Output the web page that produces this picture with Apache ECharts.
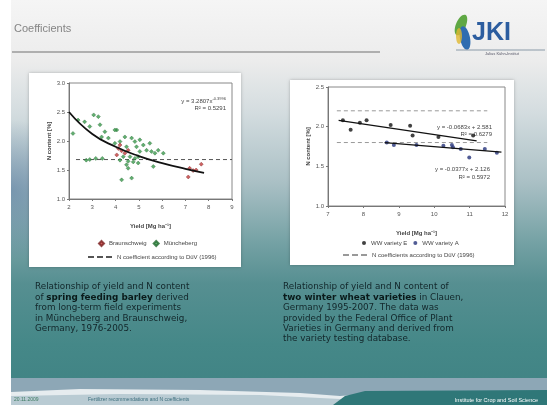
<!DOCTYPE html>
<html><head><meta charset="utf-8">
<script src="https://cdn.jsdelivr.net/npm/echarts@6/dist/echarts.min.js"></script>
<style>html,body{margin:0;padding:0;background:#fff}#c{width:547px;height:405px}</style>
</head><body><div id="c"></div>
<script>
// ---- data ----
const barleyMuencheberg = [[2.17,2.13],[2.39,2.36],[2.67,2.33],[2.89,2.25],[3.06,2.45],[3.26,2.42],[3.33,2.28],[3.54,2.16],[3.40,2.07],[3.69,2.05],[4.05,2.19],[3.97,1.96],[4.19,1.99],[4.40,2.07],[4.47,1.90],[4.69,2.05],[4.83,1.99],[4.90,1.90],[5.04,2.02],[5.19,1.93],[5.33,1.84],[5.47,1.96],[5.54,1.82],[5.69,1.79],[4.62,1.73],[4.76,1.64],[4.47,1.59],[4.54,1.53],[4.83,1.70],[4.97,1.73],[5.04,1.82],[4.19,1.67],[4.33,1.73],[3.43,1.70],[3.15,1.70],[2.89,1.68],[2.74,1.67],[4.26,1.33],[4.69,1.36],[5.62,1.56],[6.05,1.79],[5.83,1.84],[3.97,2.19],[4.97,1.62],[4.54,1.65]];
const barleyBraunschweig = [[4.12,1.87],[4.26,1.83],[4.05,1.76],[4.40,1.79],[4.54,1.84],[4.19,1.93],[7.18,1.53],[7.33,1.49],[7.12,1.38],[7.46,1.50],[7.68,1.60]];
const barleyTrend = [[2,2.50],[3,2.12],[4,1.90],[5,1.74],[6,1.62],[7,1.52],[7.8,1.45]];
const barleyCoef = [[2.3,1.68],[9,1.68]];
const wheatE = [[7.42,2.08],[7.64,1.96],[7.90,2.05],[8.09,2.08],[8.77,2.02],[9.32,2.01],[9.39,1.89],[10.12,1.87],[11.1,1.89]];
const wheatA = [[8.66,1.80],[8.86,1.77],[9.5,1.77],[10.26,1.76],[10.5,1.77],[10.53,1.74],[10.75,1.72],[10.99,1.61],[11.43,1.72],[11.77,1.67]];
const wheatTrendE = [[7.3,2.08],[11.2,1.82]];
const wheatTrendA = [[8.6,1.80],[11.9,1.68]];
const wheatCoefHigh = [[7.25,2.2],[11.5,2.2]];
const wheatCoefLow = [[7.25,1.8],[11.5,1.8]];
const leftLegend = ['Braunschweig','Müncheberg'];
const rightLegend = ['WW variety E','WW variety A'];
const leftCoefName = 'N coefficient according to DüV (1996)';
const rightCoefName = 'N coefficients according to DüV (1996)';

const chart = echarts.init(document.getElementById('c'), null, {renderer:'canvas'});
const F = 'Liberation Sans, Arial, sans-serif';
const CF = 'DejaVu Sans, Verdana, sans-serif';
const axisLab = {fontSize:6, color:'#555', fontFamily:F};
const yFmt = v => v.toFixed(1);
const dashIcon = 'path://M0,0h6v2h-6z M9,0h6v2h-6z M18,0h6v2h-6z';
function xAx(gi, min, max){return {gridIndex:gi,type:'value',min:min,max:max,interval:1,
  name:'Yield [Mg ha⁻¹]',nameLocation:'middle',nameGap:24,
  nameTextStyle:{fontSize:6,fontWeight:'bold',color:'#444',fontFamily:F},
  axisLine:{lineStyle:{color:'#777'}},axisTick:{length:2,lineStyle:{color:'#777'}},
  axisLabel:Object.assign({margin:5},axisLab),splitLine:{show:false}};}
function yAx(gi, min, max){return {gridIndex:gi,type:'value',min:min,max:max,interval:0.5,
  name:'N content [%]',nameLocation:'middle',nameGap:17,nameRotate:90,
  nameTextStyle:{fontSize:6,fontWeight:'bold',color:'#444',fontFamily:F},
  axisLine:{show:true,lineStyle:{color:'#777'}},axisTick:{show:true,length:2,lineStyle:{color:'#777'}},
  axisLabel:Object.assign({margin:4,formatter:yFmt},axisLab),splitLine:{show:false}};}

const slideGrad = new echarts.graphic.LinearGradient(0,0,0,1,[
  {offset:0,color:'#f5f5f5'},{offset:0.15,color:'#ececec'},{offset:0.28,color:'#d3dcdf'},
  {offset:0.45,color:'#aac0c5'},{offset:0.6,color:'#74a1a4'},{offset:0.7,color:'#568f91'},{offset:0.85,color:'#458888'},{offset:1,color:'#3f8283'}]);
const leftGlow = new echarts.graphic.RadialGradient(0.5,0.5,0.5,[
  {offset:0,color:'rgba(85,120,160,0.55)'},{offset:1,color:'rgba(85,120,160,0)'}]);

const option = {
  animation:false,
  backgroundColor:'#ffffff',
  graphic:[
    {type:'rect',z:-10,shape:{x:11,y:0,width:536,height:405},style:{fill:slideGrad},silent:true},
    {type:'ellipse',z:-9,shape:{cx:11,cy:190,rx:70,ry:150},style:{fill:leftGlow},silent:true},
    {type:'rect',z:-8,shape:{x:0,y:0,width:11,height:405},style:{fill:'#ffffff'},silent:true},
    // footer
    {type:'rect',z:-8,shape:{x:11,y:378,width:536,height:27},style:{fill:'#8da7b6'}},
    {type:'polygon',z:-7,shape:{points:[[11,392],[80,389],[200,390],[300,393],[340,396],[380,393],[547,391],[547,405],[11,405]]},style:{fill:'#e6ecef'}},
    {type:'polygon',z:-6,shape:{points:[[11,396],[120,394],[260,395],[340,399],[347,405],[11,405]]},style:{fill:'#b9cbd3'}},
    {type:'polygon',z:-5,shape:{points:[[333,405],[345,396],[365,391],[547,390],[547,405]]},style:{fill:'#2f7778'}},
    {type:'text',style:{x:14,y:400,text:'20.11.2009',fontSize:5,fill:'#3e7b62',fontFamily:F,verticalAlign:'middle'}},
    {type:'text',style:{x:88,y:400,text:'Fertilizer recommendations and N coefficients',fontSize:5,fill:'#3b6d7c',fontFamily:F,verticalAlign:'middle'}},
    {type:'text',style:{x:538,y:400,text:'Institute for Crop and Soil Science',fontSize:5.5,fill:'#ffffff',fontFamily:F,align:'right',verticalAlign:'middle'}},
    // header
    {type:'text',style:{x:14,y:29,text:'Coefficients',fontSize:11,fill:'#858585',fontFamily:F,verticalAlign:'middle'}},
    {type:'line',shape:{x1:12,y1:52,x2:380,y2:52},style:{stroke:'#9a9a9a',lineWidth:1.5}},
    // logo
    {type:'ellipse',shape:{cx:461,cy:25,rx:5,ry:11},rotation:-0.4,originX:461,originY:25,style:{fill:'#5fa844'}},
    {type:'ellipse',shape:{cx:465,cy:38,rx:5,ry:12},rotation:0.2,originX:465,originY:38,style:{fill:'#2f6db0'}},
    {type:'ellipse',shape:{cx:459,cy:36,rx:3,ry:8},style:{fill:'#e0b830',opacity:0.8}},
    {type:'text',style:{x:472,y:33,text:'JKI',fontSize:25,fontWeight:'bold',fill:'#2c5d9f',fontFamily:F,verticalAlign:'middle'}},
    {type:'line',shape:{x1:456,y1:50,x2:545,y2:50},style:{stroke:'#8a9aa8',lineWidth:1}},
    {type:'text',style:{x:502,y:54,text:'Julius Kühn-Institut',fontSize:4,fill:'#556',fontFamily:F,align:'center',verticalAlign:'middle'}},
    // chart boxes
    {type:'rect',z:-4,shape:{x:29,y:73,width:212,height:194},style:{fill:'#ffffff',shadowBlur:3,shadowColor:'rgba(0,0,0,0.25)'}},
    {type:'rect',z:-4,shape:{x:290,y:80,width:224,height:185},style:{fill:'#ffffff',shadowBlur:3,shadowColor:'rgba(0,0,0,0.25)'}},
    // equations
    {type:'text',style:{x:226,y:101,text:'y = 3.2807x{s|-0.3996}',rich:{s:{fontSize:4,verticalAlign:'top',padding:[0,0,4,0]}},fontSize:6,fill:'#444',fontFamily:F,align:'right',verticalAlign:'middle'}},
    {type:'text',style:{x:226,y:108,text:'R² = 0.5291',fontSize:6,fill:'#444',fontFamily:F,align:'right',verticalAlign:'middle'}},
    {type:'text',style:{x:492,y:127,text:'y = -0.0683x + 2.581',fontSize:6,fill:'#444',fontFamily:F,align:'right',verticalAlign:'middle'}},
    {type:'text',style:{x:492,y:134,text:'R² = 0.6279',fontSize:6,fill:'#444',fontFamily:F,align:'right',verticalAlign:'middle'}},
    {type:'text',style:{x:490,y:169,text:'y = -0.0377x + 2.126',fontSize:6,fill:'#444',fontFamily:F,align:'right',verticalAlign:'middle'}},
    {type:'text',style:{x:490,y:177,text:'R² = 0.5972',fontSize:6,fill:'#444',fontFamily:F,align:'right',verticalAlign:'middle'}},
    // captions
    {type:'text',style:{x:35,y:282,fontSize:8.8,lineHeight:10.4,fill:'#12262a',fontFamily:CF,
      text:'Relationship of yield and N content\nof {b|spring feeding barley} derived\nfrom long-term field experiments\nin Müncheberg and Braunschweig,\nGermany, 1976-2005.',
      rich:{b:{fontWeight:'bold',fontSize:8.8,lineHeight:10.4,fill:'#0a1a1a',fontFamily:CF}}}},
    {type:'text',style:{x:283,y:282,fontSize:8.8,lineHeight:10.4,fill:'#12262a',fontFamily:CF,
      text:'Relationship of yield and N content of\n{b|two winter wheat varieties} in Clauen,\nGermany 1995-2007. The data was\nprovided by the Federal Office of Plant\nVarieties in Germany and derived from\nthe variety testing database.',
      rich:{b:{fontWeight:'bold',fontSize:8.8,lineHeight:10.4,fill:'#0a1a1a',fontFamily:CF}}}}
  ],
  grid:[
    {left:69,top:83,width:163,height:116,show:true,borderColor:'#888',borderWidth:1,backgroundColor:'transparent'},
    {left:328,top:87,width:177,height:119,show:true,borderColor:'#888',borderWidth:1,backgroundColor:'transparent'}
  ],
  xAxis:[xAx(0,2,9), xAx(1,7,12)],
  yAxis:[yAx(0,1,3), yAx(1,1,2.5)],
  legend:[
    {data:[{name:leftLegend[0],icon:'diamond'},{name:leftLegend[1],icon:'diamond'}],left:98,top:240,itemWidth:5,itemHeight:5,itemGap:6,textStyle:{fontSize:6,color:'#444',fontFamily:F},padding:0},
    {data:[{name:leftCoefName,icon:dashIcon}],left:88,top:254,itemWidth:24,itemHeight:2,itemGap:4,textStyle:{fontSize:6,color:'#444',fontFamily:F},padding:0},
    {data:[{name:rightLegend[0],icon:'circle'},{name:rightLegend[1],icon:'circle'}],left:362,top:240,itemWidth:4,itemHeight:4,itemGap:6,textStyle:{fontSize:6,color:'#444',fontFamily:F},padding:0},
    {data:[{name:rightCoefName,icon:dashIcon}],left:343,top:252,itemWidth:24,itemHeight:2,itemGap:4,textStyle:{fontSize:6,color:'#444',fontFamily:F},padding:0}
  ],
  series:[
    {name:leftCoefName,type:'line',xAxisIndex:0,yAxisIndex:0,data:barleyCoef,symbol:'none',lineStyle:{color:'#555',width:1,type:[4,3]},itemStyle:{color:'#555'},z:1},
    {name:leftLegend[1],type:'scatter',xAxisIndex:0,yAxisIndex:0,data:barleyMuencheberg,symbol:'diamond',symbolSize:4,itemStyle:{color:'#3a9a4c',borderColor:'#236a30',borderWidth:0.5},z:2},
    {name:leftLegend[0],type:'scatter',xAxisIndex:0,yAxisIndex:0,data:barleyBraunschweig,symbol:'diamond',symbolSize:4,itemStyle:{color:'#c23b3b',borderColor:'#7a2020',borderWidth:0.5},z:3},
    {name:'barley trend',type:'line',xAxisIndex:0,yAxisIndex:0,data:barleyTrend,smooth:true,symbol:'none',lineStyle:{color:'#111',width:1.8},z:4},
    {name:rightCoefName,type:'line',xAxisIndex:1,yAxisIndex:1,data:wheatCoefHigh,symbol:'none',lineStyle:{color:'#999',width:1,type:[4,3]},itemStyle:{color:'#999'},z:1},
    {name:rightCoefName,type:'line',xAxisIndex:1,yAxisIndex:1,data:wheatCoefLow,symbol:'none',lineStyle:{color:'#999',width:1,type:[4,3]},itemStyle:{color:'#999'},z:1},
    {name:rightLegend[0],type:'scatter',xAxisIndex:1,yAxisIndex:1,data:wheatE,symbol:'circle',symbolSize:4,itemStyle:{color:'#111'},z:3},
    {name:rightLegend[1],type:'scatter',xAxisIndex:1,yAxisIndex:1,data:wheatA,symbol:'circle',symbolSize:4,itemStyle:{color:'#26337a'},z:3},
    {name:'trend E',type:'line',xAxisIndex:1,yAxisIndex:1,data:wheatTrendE,symbol:'none',lineStyle:{color:'#111',width:1.2},z:4},
    {name:'trend A',type:'line',xAxisIndex:1,yAxisIndex:1,data:wheatTrendA,symbol:'none',lineStyle:{color:'#111',width:1.2},z:4}
  ]
};
chart.setOption(option);
</script></body></html>
